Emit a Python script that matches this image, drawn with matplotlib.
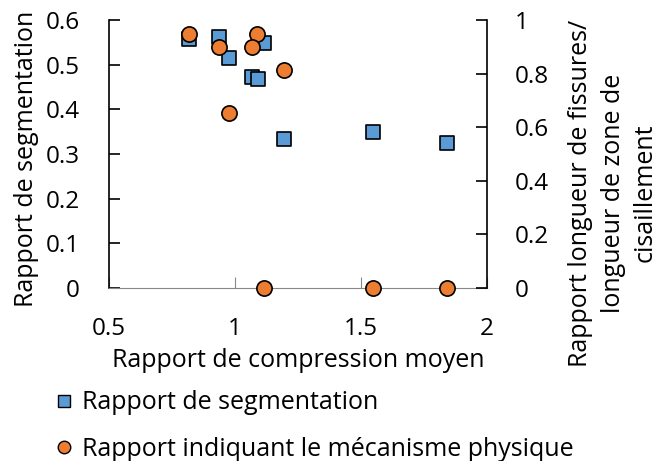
import matplotlib.pyplot as plt
from matplotlib.lines import Line2D

plt.rcParams['font.family'] = ['Open Sans', 'DejaVu Sans']

# Rapport de compression moyen
x_seg = [0.817, 0.935, 0.976, 1.115, 1.067, 1.091, 1.193, 1.549, 1.843]
# Rapport de segmentation
y_seg = [0.557, 0.561, 0.514, 0.549, 0.473, 0.467, 0.334, 0.350, 0.324]

x_meca = [0.817, 0.935, 1.089, 1.066, 1.193, 0.976, 1.114, 1.549, 1.843]
# Rapport longueur de fissures / longueur de zone de cisaillement
y_meca = [0.947, 0.899, 0.947, 0.899, 0.812, 0.653, 0.0, 0.0, 0.0]

blue = '#5B9BD5'
orange = '#ED7D31'
fs = 18
tfs = 17.5

fig = plt.figure(figsize=(6.59, 4.61), dpi=100)
ax = fig.add_axes([0.1654, 0.3753, 0.5736, 0.5813])
ax.scatter(x_seg, y_seg, marker='s', s=110, color=blue, edgecolor='black', linewidth=1.2, zorder=3)
ax.set_xlim(0.5, 2)
ax.set_ylim(0, 0.6)
ax.set_xticks([0.5, 1, 1.5, 2])
ax.set_xticklabels(['0.5', '1', '1.5', '2'])
ax.set_yticks([0, 0.1, 0.2, 0.3, 0.4, 0.5, 0.6])
ax.set_yticklabels(['0', '0.1', '0.2', '0.3', '0.4', '0.5', '0.6'])
ax.tick_params(axis='y', direction='in', length=8, width=1.2, labelsize=tfs, pad=21)
ax.tick_params(axis='x', direction='in', length=8, width=0.8, color='#888888', labelsize=tfs, pad=21)
ax.spines['top'].set_visible(False)
ax.spines['right'].set_visible(False)
ax.spines['bottom'].set_color('#888888')
ax.spines['left'].set_linewidth(1.2)
ax.set_xlabel('Rapport de compression moyen', fontsize=fs, labelpad=5)
fig.text(27 / 659, 1 - 159 / 461, 'Rapport de segmentation', fontsize=fs,
         rotation=90, ha='center', va='center')

ax2 = ax.twinx()
ax2.scatter(x_meca, y_meca, marker='o', s=120, color=orange, edgecolor='black', linewidth=1.2, zorder=4, clip_on=False)
ax2.set_ylim(0, 1)
ax2.set_yticks([0, 0.2, 0.4, 0.6, 0.8, 1])
ax2.set_yticklabels(['0', '0.2', '0.4', '0.6', '0.8', '1'])
ax2.tick_params(axis='y', direction='in', length=8, width=1.2, labelsize=tfs, pad=20)
ax2.spines['top'].set_visible(False)
ax2.spines['left'].set_visible(False)
ax2.spines['bottom'].set_visible(False)
ax2.spines['right'].set_linewidth(1.2)
fig.text(613 / 659, 1 - 193 / 461, 'Rapport longueur de fissures/\nlongueur de zone de\ncisaillement',
         fontsize=fs, rotation=90, ha='center', va='center', multialignment='center', linespacing=1.38)

handles = [
    Line2D([], [], marker='s', linestyle='none', markersize=9, markerfacecolor=blue, markeredgecolor='black', markeredgewidth=1),
    Line2D([], [], marker='o', linestyle='none', markersize=9, markerfacecolor=orange, markeredgecolor='black', markeredgewidth=1),
]
fig.legend(handles, ['Rapport de segmentation', 'Rapport indiquant le mécanisme physique'],
           loc='upper left', bbox_to_anchor=(0.07, 0.175), frameon=False, fontsize=fs,
           handlelength=0.6, handletextpad=0.45, labelspacing=0.85, borderaxespad=0)

fig.savefig('out.png', dpi=100)
